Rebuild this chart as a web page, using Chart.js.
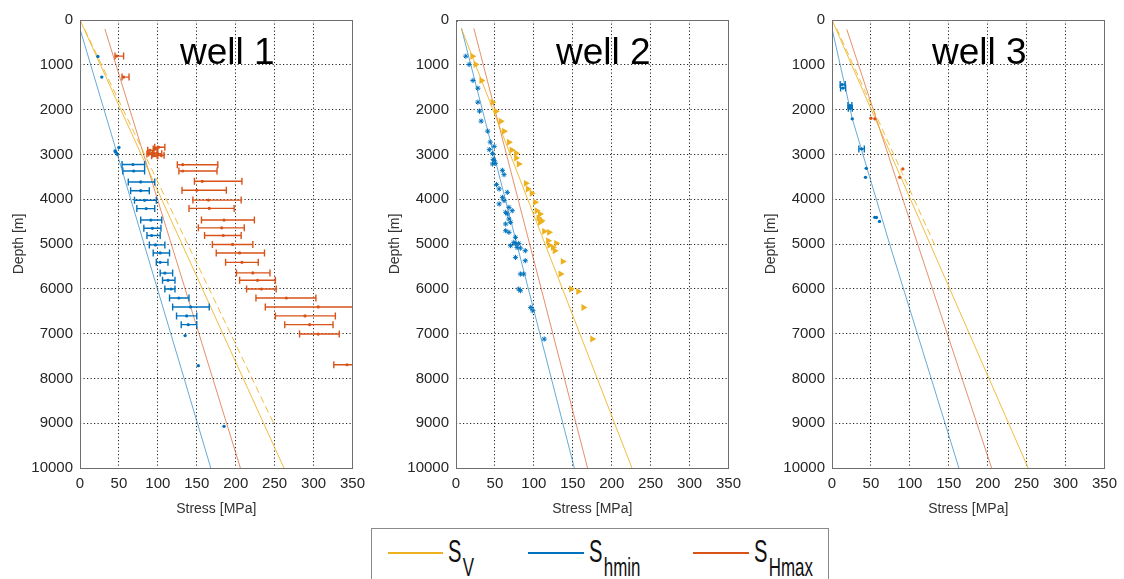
<!DOCTYPE html>
<html>
<head>
<meta charset="utf-8">
<script src="https://cdn.jsdelivr.net/npm/chart.js@4.4.1/dist/chart.umd.min.js"></script>
<style>
  html, body { margin: 0; padding: 0; background: #fff; overflow: hidden; }
  body { width: 1124px; height: 579px; position: relative; font-family: "Liberation Sans", Arial, sans-serif; }
  canvas { position: absolute; top: 0; }
  #legendBox { position: absolute; left: 371px; top: 528px; width: 456px; height: 80px; border: 1px solid #8a8a8a; background: #fff; }
  .swatch { position: absolute; height: 2px; top: 552px; }
  .lab { position: absolute; top: 536px; font-size: 31px; line-height: 31px; color: #111; white-space: nowrap;
         transform: scaleX(0.65); transform-origin: left top; }
  .lab span { font-size: 26px; position: relative; top: 14px; margin-left: 2px; }
</style>
</head>
<body>
<canvas id="well1" width="372" height="520" style="left:0px"></canvas>
<canvas id="well2" width="372" height="520" style="left:376px"></canvas>
<canvas id="well3" width="372" height="520" style="left:752px"></canvas>

<div id="legendBox"></div>
<div class="swatch" style="left:388px;width:55px;background:#EDB120"></div>
<div class="lab" style="left:448px">S<span>V</span></div>
<div class="swatch" style="left:528px;width:56px;background:#0072BD"></div>
<div class="lab" style="left:589px">S<span>hmin</span></div>
<div class="swatch" style="left:693px;width:56px;background:#D95319"></div>
<div class="lab" style="left:754px">S<span>Hmax</span></div>

<script>
// axes
const xTicks = [0, 50, 100, 150, 200, 250, 300, 350];
const yTicks = [0, 1000, 2000, 3000, 4000, 5000, 6000, 7000, 8000, 9000, 10000];
const wellNames = ['well 1', 'well 2', 'well 3'];

// gradient lines, [stress, depth]
const w1SvLine = [[0, 0], [262, 10000]];
const w1SvDashed = [[6, 210], [250, 9050]];
const w1ShminLine = [[0, 200], [168, 10000]];
const w1SHmaxLine = [[32, 200], [206, 10000]];

const w2SvLine = [[7, 190], [226, 10000]];
const w2ShminLine = [[7, 185], [152, 10000]];
const w2SHmaxLine = [[23, 190], [169, 10000]];

const w3SvLine = [[0, 0], [252, 10000]];
const w3SvDashed = [[6, 190], [133, 5060]];
const w3ShminLine = [[0, 190], [26, 2200], [74, 5000], [163, 10000]];
const w3SHmaxLine = [[19, 210], [205, 10000]];

// well 1 measurements: [depth, stress, min, max]
const w1ShminBars = [
  [3225, 68, 54, 83], [3370, 69, 55, 83], [3615, 78, 62, 96], [3810, 78, 65, 89],
  [4025, 83, 70, 98], [4210, 85, 73, 96], [4465, 91, 78, 105], [4650, 93, 82, 104],
  [4810, 92, 86, 103], [5020, 97, 89, 109], [5200, 103, 94, 115], [5410, 103, 98, 113],
  [5650, 109, 103, 119], [5810, 113, 106, 122], [6005, 117, 109, 122], [6205, 127, 115, 140],
  [6405, 142, 119, 166], [6605, 137, 124, 150], [6800, 139, 130, 150]
];
const w1ShminPoints = [[23, 815], [28, 1275], [45, 2925], [48, 2995], [50, 2845], [46, 2950],
  [135, 7045], [152, 7715], [185, 9070]];
const w1SHmaxBars = [
  [806, 47, 45, 56], [1275, 56, 54, 63],
  [2840, 101, 96, 109], [2880, 97, 94, 100], [2910, 90, 87, 95], [2970, 93, 88, 99],
  [2985, 100, 94, 105], [2990, 89, 86, 93], [3020, 104, 99, 108], [3030, 96, 92, 100],
  [3230, 132, 125, 177], [3370, 132, 127, 176], [3600, 157, 147, 208], [3800, 150, 131, 188],
  [4020, 165, 145, 207], [4205, 166, 140, 198], [4465, 185, 156, 224], [4640, 182, 152, 211],
  [4810, 184, 160, 207], [5010, 196, 170, 222], [5200, 205, 175, 237], [5410, 208, 187, 229],
  [5645, 222, 201, 244], [5810, 228, 205, 251], [6005, 233, 214, 252], [6205, 265, 226, 303],
  [6405, 306, 238, 372], [6605, 289, 251, 328], [6800, 295, 263, 325], [7010, 306, 282, 333],
  [7695, 343, 326, 362]
];

// well 2 measurements: [stress, depth]
const w2ShminPoints = [
  [0, 0], [12.6, 808], [16.8, 993], [21.8, 1350], [28.1, 1522], [28.1, 1834], [30.2, 2034],
  [32.3, 2257], [40.7, 2480], [44, 2725], [49, 2821], [42.8, 2894], [47, 2984], [47.8, 3110],
  [49, 3133], [47, 3213], [50.4, 3199], [59.6, 3356], [61.7, 3452], [52, 3675], [55.4, 3771],
  [65.9, 3847], [59.6, 3959], [61.7, 4032], [55.4, 4106], [68, 4182], [63.8, 4293], [65.9, 4330],
  [72.2, 4256], [68, 4441], [70.1, 4517], [63.8, 4553], [63.8, 4703], [68, 4740], [76.4, 4852],
  [74.3, 4964], [70.1, 5038], [76.4, 5000], [78.4, 5076], [80.6, 4986], [82.7, 5090],
  [76.4, 5299], [89, 5149], [89, 5373], [82.7, 5670], [86.9, 5670], [80.6, 6005], [82.7, 6043],
  [96, 6416], [98.6, 6490], [113.3, 7122]
];
const w2SvPoints = [
  [21, 808], [25.2, 993], [32.7, 1350], [47, 1837], [51.2, 2038], [57.5, 2261], [61.7, 2484],
  [68, 2730], [71.4, 2900], [77.2, 2976], [77.2, 3079], [80.6, 3213], [89.8, 3646], [92.3, 3771],
  [97.3, 3869], [101.6, 4070], [103.6, 4256], [107.9, 4330], [106, 4420], [110, 4480],
  [107.9, 4517], [113.3, 4718], [119.6, 4740], [118.3, 4926], [128.8, 4986], [124.6, 5076],
  [126.8, 5149], [120, 5030], [137.2, 5388], [134.3, 5670], [147.7, 6005], [157, 6059],
  [163.7, 6416], [175, 7122]
];

// well 3 measurements
const w3ShminBars = [[1440, 13, 10.5, 17], [1520, 14, 11, 17.5], [1910, 23, 20.5, 25.5],
  [1970, 23.5, 21, 26], [2877, 38, 34.5, 41.5]];
const w3ShminPoints = [[26, 2207], [44, 3311], [43, 3512], [55, 4405], [57, 4410], [61, 4495]];
const w3SHmaxPoints = [[50, 2193], [55, 2207], [91, 3324], [87, 3512]];

const cSv = '#EDB120', cShmin = '#0072BD', cSHmax = '#D95319';
const lineSv = 'rgba(237,177,32,0.85)', lineShmin = 'rgba(0,114,189,0.6)', lineSHmax = 'rgba(217,83,25,0.65)';

Chart.defaults.font.family = '"Liberation Sans", Arial, sans-serif';
Chart.defaults.color = '#262626';

function lineDs(pts, color, dashed) {
  return {
    type: 'scatter', data: pts.map(p => ({x: p[0], y: p[1]})), showLine: true,
    borderColor: color, borderWidth: 1, pointRadius: 0, borderDash: dashed ? [7, 4] : [], order: 5
  };
}
function pointDs(pts, color, style, r) {
  const ds = {
    data: pts.map(p => ({x: p[0], y: p[1]})), pointRadius: r || 1.7,
    backgroundColor: color, borderColor: color, borderWidth: 0, order: 1
  };
  if (style === 'star') { ds.pointStyle = 'star'; ds.borderWidth = 1; ds.pointRadius = 2.6; }
  if (style === 'tri') { ds.pointStyle = 'triangle'; ds.rotation = 90; ds.pointRadius = 4; }
  return ds;
}
function barDs(rows, color) {
  return {
    data: rows.map(r => ({x: r[1], y: r[0], xMin: r[2], xMax: r[3]})),
    pointRadius: 1.6, backgroundColor: color, borderColor: color, borderWidth: 0,
    errorBars: true, order: 2
  };
}

const errorBars = {
  id: 'errorBars',
  afterDatasetsDraw(chart) {
    const {ctx, chartArea, scales: {x, y}} = chart;
    ctx.save();
    ctx.beginPath();
    ctx.rect(chartArea.left, chartArea.top, chartArea.width, chartArea.height);
    ctx.clip();
    chart.data.datasets.forEach(ds => {
      if (!ds.errorBars) return;
      ctx.strokeStyle = ds.borderColor;
      ctx.lineWidth = 1.4;
      ds.data.forEach(p => {
        const py = y.getPixelForValue(p.y);
        const x0 = x.getPixelForValue(p.xMin), x1 = x.getPixelForValue(p.xMax);
        ctx.beginPath();
        ctx.moveTo(x0, py); ctx.lineTo(x1, py);
        ctx.moveTo(x0, py - 3.5); ctx.lineTo(x0, py + 3.5);
        ctx.moveTo(x1, py - 3.5); ctx.lineTo(x1, py + 3.5);
        ctx.stroke();
      });
    });
    ctx.restore();
  }
};

// axes box + "well n" label inside the plot
const frame = {
  id: 'frame',
  afterDraw(chart, args, opts) {
    const {ctx, chartArea: a} = chart;
    ctx.save();
    ctx.strokeStyle = '#6e6e6e';
    ctx.lineWidth = 1;
    ctx.strokeRect(Math.round(a.left) + 0.5, Math.round(a.top) + 0.5, Math.round(a.width), Math.round(a.height));
    ctx.fillStyle = '#000';
    ctx.font = '37px "Liberation Sans", Arial, sans-serif';
    ctx.textBaseline = 'alphabetic';
    ctx.fillText(opts.text, a.left + 100, a.top + 44);
    ctx.restore();
  }
};

function makeWell(id, name, datasets) {
  return new Chart(document.getElementById(id), {
    type: 'scatter',
    data: { datasets: datasets },
    plugins: [errorBars, frame],
    options: {
      responsive: false,
      animation: false,
      layout: { padding: { top: 20, right: 14, left: 0, bottom: 0 } },
      plugins: { legend: { display: false }, tooltip: { enabled: false }, frame: { text: name } },
      scales: {
        x: {
          min: 0, max: 350,
          afterBuildTicks: s => { s.ticks = xTicks.map(v => ({value: v})); },
          afterFit: s => { s.height = 52; },
          ticks: { font: { size: 15 }, padding: 7, maxRotation: 0, color: '#262626', callback: v => String(v) },
          grid: { color: '#222', lineWidth: 1, drawTicks: false },
          border: { display: false, dash: [1.2, 2.3] },
          title: { display: true, text: 'Stress [MPa]', font: { size: 14 }, padding: { top: 0, bottom: 2 }, color: '#333' }
        },
        y: {
          min: 0, max: 10000, reverse: true,
          afterBuildTicks: s => { s.ticks = yTicks.map(v => ({value: v})); },
          afterFit: s => { s.width = 80; },
          ticks: { font: { size: 15 }, padding: 7, color: '#262626', callback: v => String(v) },
          grid: { color: '#222', lineWidth: 1, drawTicks: false },
          border: { display: false, dash: [1.2, 2.3] },
          title: { display: true, text: 'Depth [m]', font: { size: 14 }, padding: { top: 11, bottom: 0 }, color: '#333' }
        }
      }
    }
  });
}

makeWell('well1', wellNames[0], [
  barDs(w1ShminBars, cShmin),
  barDs(w1SHmaxBars, cSHmax),
  pointDs(w1ShminPoints, cShmin),
  lineDs(w1SvLine, lineSv),
  lineDs(w1SvDashed, lineSv, true),
  lineDs(w1ShminLine, lineShmin),
  lineDs(w1SHmaxLine, lineSHmax)
]);

makeWell('well2', wellNames[1], [
  pointDs(w2ShminPoints, cShmin, 'star'),
  pointDs(w2SvPoints, cSv, 'tri'),
  lineDs(w2SvLine, lineSv),
  lineDs(w2ShminLine, lineShmin),
  lineDs(w2SHmaxLine, lineSHmax)
]);

makeWell('well3', wellNames[2], [
  barDs(w3ShminBars, cShmin),
  pointDs(w3ShminPoints, cShmin),
  pointDs(w3SHmaxPoints, cSHmax),
  lineDs(w3SvLine, lineSv),
  lineDs(w3SvDashed, lineSv, true),
  lineDs(w3ShminLine, lineShmin),
  lineDs(w3SHmaxLine, lineSHmax)
]);
</script>
</body>
</html>
